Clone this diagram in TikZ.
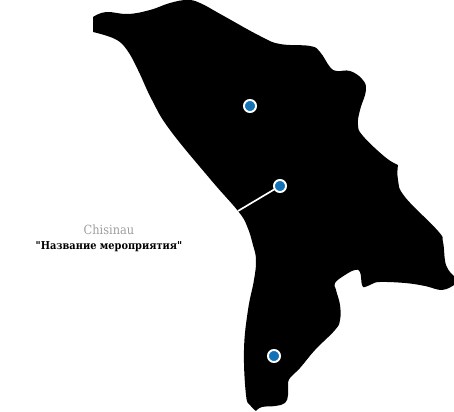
\documentclass[tikz,border=0pt]{standalone}
\usepackage{fontspec}
\setmainfont{DejaVu Serif Condensed}[Ligatures=TeXOff]
\usepackage{xcolor}
\definecolor{dotblue}{HTML}{1272B5}
\definecolor{labelgray}{HTML}{9E9E9E}
\tikzset{
    citydot/.style={circle, fill=dotblue, draw=white, line width=1.1pt, minimum size=6.9pt, inner sep=0pt},
    citylabel/.style={inner sep=0pt, font=\fontsize{7.2pt}{8pt}\selectfont}
}
\begin{document}
\begin{tikzpicture}[x=0.02cm, y=-0.02cm]
    \useasboundingbox (0,0) rectangle (454,412);

    % Map outline
    \fill[black] plot[smooth, tension=0.7] coordinates {
        (93,17) (106,12) (128,14) (150,10) (170,3) (187,0) (200,3) (222,15) (260,36)
        (280,44) (310,46) (320,52) (330,67) (337,71) (350,71) (362,79) (366,90)
        (360,110) (358,125) (363,136) (385,157) (398,165)}
        -- plot[smooth, tension=0.7] coordinates {
        (398,165) (398,180) (405,197) (438,231) (443,242) (446,265) (454,276)}
        -- (454,285)
        -- plot[smooth, tension=0.7] coordinates {
        (454,285) (442,290) (425,286) (405,283) (380,282) (372,284) (365,287) (362,285)
        (360,272) (355,270) (345,275) (335,283) (336,290) (340,305) (340,320) (335,330)
        (315,350) (300,368) (290,378) (288,385) (288,395) (285,403) (275,406) (262,407) (256,411)}
        -- plot[smooth, tension=0.7] coordinates {
        (256,411) (250,405) (246,395) (244,350) (248,310) (254,280) (256,260) (253,245)
        (247,226) (238,211) (211,180) (170,130) (152,100) (138,70) (127,50) (115,39) (93,32)}
        -- cycle;

    % Markers
    \node[citydot] (north) at (250,106) {};
    \node[citydot] (chisinau) at (280,186) {};
    \node[citydot] (south) at (274,356) {};

    % Connector
    \coordinate (chisinauEnd) at (238,211);
    \draw[white, line width=0.95pt] (chisinauEnd) -- (chisinau);

    % Labels
    \node[citylabel, text=labelgray] (cityname) at (109,230) {Chisinau};
    \node[citylabel, font=\fontsize{6.2pt}{8pt}\selectfont\bfseries] (eventname) at (109,246.5) {"Название мероприятия"};
\end{tikzpicture}
\end{document}
